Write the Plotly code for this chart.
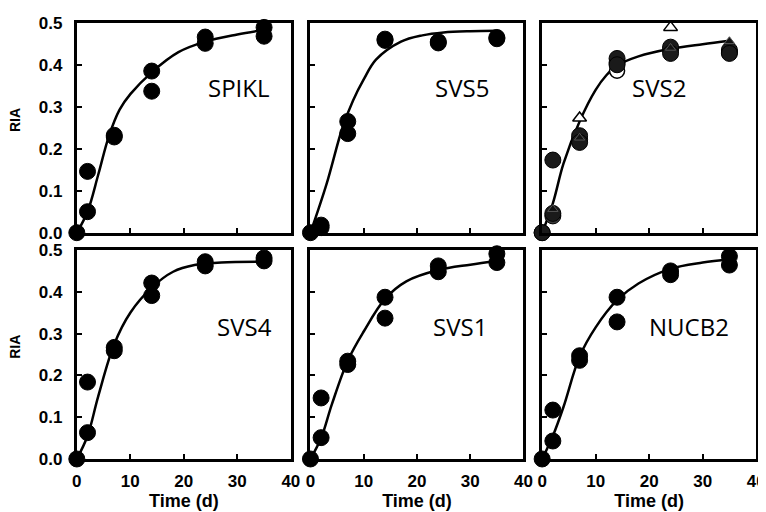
import plotly.graph_objects as go

# ---------------- data ----------------
times = [0, 2, 2, 7, 7, 14, 14, 24, 24, 35, 35]

panel_names = ["SPIKL", "SVS5", "SVS2", "SVS4", "SVS1", "NUCB2"]

spikl_y = [0.0, 0.146, 0.050, 0.232, 0.228, 0.385, 0.337, 0.466, 0.451, 0.489, 0.468]
svs5_y  = [0.0, 0.018, 0.012, 0.265, 0.236, 0.461, 0.458, 0.455, 0.452, 0.465, 0.462]
svs2_y  = [0.0, 0.173, 0.046, 0.231, 0.215, 0.415, 0.400, 0.442, 0.427, 0.435, 0.427]
svs4_y  = [0.0, 0.184, 0.063, 0.267, 0.259, 0.421, 0.391, 0.472, 0.462, 0.481, 0.474]
svs1_y  = [0.0, 0.146, 0.051, 0.234, 0.226, 0.387, 0.337, 0.462, 0.448, 0.491, 0.470]
nucb2_y = [0.0, 0.117, 0.043, 0.247, 0.236, 0.387, 0.328, 0.450, 0.441, 0.485, 0.464]

# extra SVS2 replicate series
svs2_grey_x = [0, 2, 7, 14, 24, 35]
svs2_grey_y = [0.0, 0.040, 0.222, 0.405, 0.435, 0.430]
svs2_filltri_x = [2, 7, 24, 35]
svs2_filltri_y = [0.056, 0.226, 0.440, 0.456]
svs2_opentri_x = [7, 24]
svs2_opentri_y = [0.273, 0.489]
svs2_opencirc_x = [14]
svs2_opencirc_y = [0.386]

# fitted curves
spikl_fit_x = [0, 2, 4, 6, 8, 10, 14, 19, 24, 30, 35]
spikl_fit_y = [0.0, 0.050, 0.138, 0.230, 0.293, 0.330, 0.382, 0.430, 0.455, 0.472, 0.483]
svs5_fit_x = [0, 3, 6, 8, 10, 12.3, 17, 21, 25, 30, 35]
svs5_fit_y = [0.0, 0.115, 0.250, 0.315, 0.365, 0.412, 0.455, 0.470, 0.477, 0.480, 0.481]
svs2_fit_x = [0, 2, 4, 7, 10, 12, 14, 18, 24, 30, 35]
svs2_fit_y = [0.0, 0.070, 0.165, 0.265, 0.340, 0.375, 0.398, 0.420, 0.438, 0.449, 0.457]
svs4_fit_x = [0, 2, 4, 7, 10, 14, 18, 22, 27, 35]
svs4_fit_y = [0.0, 0.055, 0.150, 0.275, 0.350, 0.410, 0.448, 0.464, 0.470, 0.472]
svs1_fit_x = [0, 2, 4, 7, 10, 14, 18, 24, 30, 35]
svs1_fit_y = [0.0, 0.050, 0.130, 0.235, 0.305, 0.383, 0.425, 0.452, 0.465, 0.474]
nucb2_fit_x = [0, 2, 4, 7, 10, 14, 18, 24, 30, 35]
nucb2_fit_y = [0.0, 0.055, 0.125, 0.245, 0.315, 0.380, 0.420, 0.455, 0.470, 0.478]

x_ticks = [0, 10, 20, 30, 40]
y_ticks = [0.0, 0.1, 0.2, 0.3, 0.4, 0.5]
y_tick_text = ["0.0", "0.1", "0.2", "0.3", "0.4", "0.5"]

# label positions in data coordinates
label_pos = [(30.4, 0.346), (28.5, 0.346), (21.9, 0.346),
             (31.3, 0.318), (28.0, 0.318), (27.4, 0.318)]

panel_y = [spikl_y, svs5_y, svs2_y, svs4_y, svs1_y, nucb2_y]
fits = [(spikl_fit_x, spikl_fit_y), (svs5_fit_x, svs5_fit_y), (svs2_fit_x, svs2_fit_y),
        (svs4_fit_x, svs4_fit_y), (svs1_fit_x, svs1_fit_y), (nucb2_fit_x, nucb2_fit_y)]

# ---------------- layout geometry ----------------
W, H = 766, 512
x_px = [(65, 283), (303, 520), (539, 757)]
y_px = [(6, 224), (242, 459)]

fig = go.Figure()
layout = dict(width=W, height=H, margin=dict(l=0, r=0, t=0, b=0),
              paper_bgcolor="white", plot_bgcolor="white", showlegend=False)

tick_font = dict(family="Liberation Sans", size=17, color="black", weight="bold")

for i in range(6):
    row, col = divmod(i, 3)
    n = i + 1
    xa = "x" if n == 1 else f"x{n}"
    ya = "y" if n == 1 else f"y{n}"
    xd = [x_px[col][0] / W, x_px[col][1] / W]
    yd = [1 - y_px[row][1] / H, 1 - y_px[row][0] / H]
    layout["xaxis" if n == 1 else f"xaxis{n}"] = dict(
        domain=xd, anchor=ya, range=[0, 40], tickvals=x_ticks,
        showticklabels=(row == 1), ticks="inside", ticklen=5, tickwidth=2,
        tickcolor="black", showline=True, linewidth=3, linecolor="black",
        mirror=True, showgrid=False, zeroline=False, tickfont=tick_font,
        ticklabelstandoff=5,
        title=dict(text="Time (d)" if row == 1 else "", standoff=3,
                   font=dict(family="Liberation Sans", size=18, color="black", weight="bold")),
    )
    layout["yaxis" if n == 1 else f"yaxis{n}"] = dict(
        domain=yd, anchor=xa, range=[0, 0.5], tickvals=y_ticks, ticktext=y_tick_text,
        showticklabels=(col == 0), ticks="inside", ticklen=5, tickwidth=2,
        tickcolor="black", showline=True, linewidth=3, linecolor="black",
        mirror=True, showgrid=False, zeroline=False, tickfont=tick_font,
        ticklabelstandoff=8,
    )
    fx, fy = fits[i]
    fig.add_trace(go.Scatter(x=fx, y=fy, mode="lines", xaxis=xa, yaxis=ya,
                             line=dict(color="black", width=2.5, shape="spline"),
                             cliponaxis=False, hoverinfo="skip"))
    if i == 2:
        fig.add_trace(go.Scatter(x=svs2_opencirc_x, y=svs2_opencirc_y, mode="markers", xaxis=xa, yaxis=ya,
                                 marker=dict(size=15, color="white", line=dict(color="black", width=1.5)),
                                 cliponaxis=False))
        fig.add_trace(go.Scatter(x=svs2_grey_x, y=svs2_grey_y, mode="markers", xaxis=xa, yaxis=ya,
                                 marker=dict(size=16, color="#3a3a3a", line=dict(color="black", width=1)),
                                 cliponaxis=False))
    fig.add_trace(go.Scatter(x=times, y=panel_y[i], mode="markers", xaxis=xa, yaxis=ya,
                             marker=dict(size=16, color="#1a1a1a" if i == 2 else "black",
                                         line=dict(color="black", width=1)),
                             cliponaxis=False))
    if i == 2:
        fig.add_trace(go.Scatter(x=svs2_filltri_x, y=svs2_filltri_y, mode="markers", xaxis=xa, yaxis=ya,
                                 marker=dict(size=9, symbol="triangle-up", color="#111111",
                                             line=dict(color="#555555", width=1)),
                                 cliponaxis=False))
        fig.add_trace(go.Scatter(x=svs2_opentri_x, y=svs2_opentri_y, mode="markers", xaxis=xa, yaxis=ya,
                                 marker=dict(size=12, symbol="triangle-up", color="white",
                                             line=dict(color="black", width=1.5)),
                                 cliponaxis=False))
    lx, ly = label_pos[i]
    fig.add_annotation(x=lx, y=ly, xref=xa, yref=ya, text=panel_names[i], showarrow=False,
                       font=dict(family="Open Sans", size=24, color="black"))

# RIA labels
for row in range(2):
    cy = (y_px[row][0] + y_px[row][1]) / 2 - 8
    fig.add_annotation(x=2 / W, y=1 - cy / H, xref="paper", yref="paper", text="RIA",
                       textangle=-90, showarrow=False, xanchor="center", yanchor="middle",
                       font=dict(family="Liberation Sans", size=14, color="black", weight="bold"))

fig.update_layout(**layout)
fig.write_html("out.html")
